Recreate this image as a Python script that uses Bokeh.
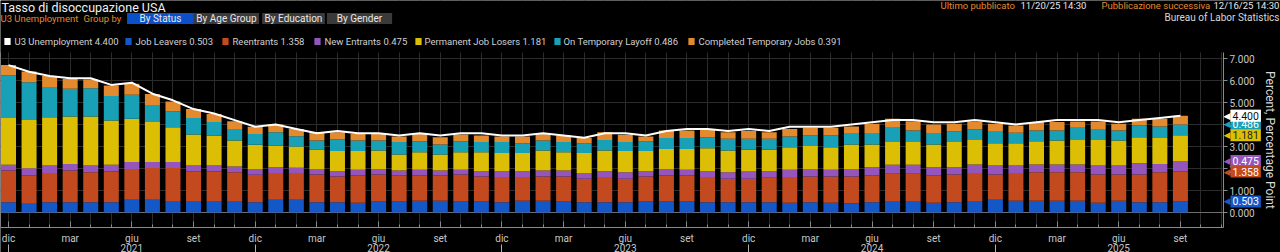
from bokeh.plotting import figure
from bokeh.models import (FixedTicker, PrintfTickFormatter, LinearAxis, Label, Grid,
                          BoxAnnotation, Range1d, ColumnDataSource)
from bokeh.embed import file_html
from bokeh.resources import INLINE

# ---------------- data ----------------
months = ["2020-12",
          "2021-01", "2021-02", "2021-03", "2021-04", "2021-05", "2021-06",
          "2021-07", "2021-08", "2021-09", "2021-10", "2021-11", "2021-12",
          "2022-01", "2022-02", "2022-03", "2022-04", "2022-05", "2022-06",
          "2022-07", "2022-08", "2022-09", "2022-10", "2022-11", "2022-12",
          "2023-01", "2023-02", "2023-03", "2023-04", "2023-05", "2023-06",
          "2023-07", "2023-08", "2023-09", "2023-10", "2023-11", "2023-12",
          "2024-01", "2024-02", "2024-03", "2024-04", "2024-05", "2024-06",
          "2024-07", "2024-08", "2024-09", "2024-10", "2024-11", "2024-12",
          "2025-01", "2025-02", "2025-03", "2025-04", "2025-05", "2025-06",
          "2025-07", "2025-08", "2025-09"]

job_leavers = [0.47, 0.40, 0.47, 0.47, 0.47, 0.47, 0.58, 0.58, 0.52, 0.52, 0.52, 0.52,
               0.47, 0.58, 0.58, 0.47, 0.47, 0.44, 0.50, 0.50, 0.53, 0.53, 0.50, 0.50,
               0.47, 0.53, 0.53, 0.50, 0.47, 0.47, 0.47, 0.50, 0.50, 0.50, 0.47, 0.47,
               0.47, 0.47, 0.44, 0.47, 0.44, 0.42, 0.47, 0.52, 0.52, 0.44, 0.47, 0.52,
               0.58, 0.53, 0.53, 0.53, 0.53, 0.44, 0.53, 0.47, 0.47, 0.503]
reentrants = [1.44, 1.28, 1.33, 1.44, 1.36, 1.39, 1.40, 1.44, 1.50, 1.36, 1.34, 1.31,
              1.25, 1.21, 1.21, 1.26, 1.17, 1.24, 1.23, 1.18, 1.15, 1.15, 1.23, 1.14,
              1.14, 1.08, 1.11, 1.14, 1.06, 1.14, 1.06, 1.14, 1.18, 1.18, 1.14, 1.06,
              1.06, 1.11, 1.17, 1.17, 1.20, 1.22, 1.21, 1.24, 1.24, 1.24, 1.26, 1.27,
              1.15, 1.26, 1.30, 1.30, 1.30, 1.29, 1.20, 1.26, 1.36, 1.358]
new_entrants = [0.26, 0.33, 0.34, 0.30, 0.31, 0.31, 0.31, 0.27, 0.27, 0.26, 0.28, 0.26,
                0.26, 0.27, 0.24, 0.22, 0.24, 0.26, 0.25, 0.23, 0.26, 0.23, 0.21, 0.24,
                0.27, 0.27, 0.27, 0.27, 0.26, 0.27, 0.30, 0.24, 0.30, 0.26, 0.27, 0.30,
                0.33, 0.30, 0.33, 0.31, 0.30, 0.31, 0.38, 0.41, 0.41, 0.38, 0.33, 0.39,
                0.41, 0.35, 0.35, 0.35, 0.35, 0.41, 0.41, 0.51, 0.38, 0.475]
perm_losers = [2.12, 2.20, 2.19, 2.15, 2.22, 2.01, 1.97, 1.82, 1.59, 1.41, 1.36, 1.18,
               1.10, 0.99, 0.97, 0.91, 0.91, 0.85, 0.84, 0.73, 0.80, 0.73, 0.80, 0.86,
               0.83, 0.83, 0.91, 0.83, 0.92, 0.94, 0.96, 0.91, 0.91, 0.95, 1.04, 0.99,
               0.99, 0.97, 1.03, 1.07, 1.03, 1.14, 1.03, 1.03, 1.03, 1.03, 1.14, 1.12,
               1.01, 1.01, 1.06, 1.09, 1.12, 1.16, 1.13, 1.18, 1.18, 1.181]
temp_layoff = [1.94, 1.71, 1.37, 1.26, 1.29, 1.11, 1.09, 0.78, 0.71, 0.74, 0.61, 0.53,
               0.49, 0.60, 0.47, 0.41, 0.53, 0.48, 0.45, 0.56, 0.50, 0.45, 0.50, 0.46,
               0.49, 0.44, 0.45, 0.46, 0.44, 0.48, 0.41, 0.45, 0.50, 0.50, 0.50, 0.53,
               0.50, 0.50, 0.48, 0.48, 0.53, 0.49, 0.49, 0.65, 0.53, 0.52, 0.48, 0.47,
               0.55, 0.47, 0.49, 0.46, 0.55, 0.50, 0.46, 0.53, 0.52, 0.486]
completed_temp = [0.48, 0.49, 0.50, 0.45, 0.40, 0.48, 0.50, 0.50, 0.46, 0.42, 0.37, 0.35,
                  0.33, 0.35, 0.33, 0.38, 0.33, 0.31, 0.31, 0.25, 0.34, 0.33, 0.31, 0.30,
                  0.25, 0.30, 0.31, 0.30, 0.24, 0.35, 0.33, 0.21, 0.34, 0.34, 0.38, 0.30,
                  0.35, 0.30, 0.35, 0.35, 0.35, 0.33, 0.45, 0.41, 0.42, 0.39, 0.35, 0.37,
                  0.33, 0.33, 0.38, 0.38, 0.29, 0.34, 0.30, 0.31, 0.35, 0.391]
u3 = [6.7,
      6.4, 6.2, 6.1, 6.1, 5.8, 5.9, 5.4, 5.1, 4.7, 4.5, 4.2, 3.9,
      4.0, 3.8, 3.6, 3.7, 3.6, 3.6, 3.5, 3.6, 3.5, 3.6, 3.6, 3.5,
      3.5, 3.6, 3.5, 3.4, 3.6, 3.6, 3.5, 3.7, 3.8, 3.8, 3.7, 3.8,
      3.7, 3.9, 3.9, 3.9, 4.0, 4.1, 4.2, 4.2, 4.1, 4.1, 4.2, 4.1,
      4.0, 4.1, 4.2, 4.2, 4.2, 4.1, 4.2, 4.3, 4.4]

series_names = ["Job Leavers", "Reentrants", "New Entrants", "Permanent Job Losers",
                "On Temporary Layoff", "Completed Temporary Jobs"]
series_keys = ["jl", "re", "ne", "pjl", "tl", "ctj"]
series_colors = ["#1458c8", "#c24a1e", "#9456bc", "#dcbf05", "#17a0b6", "#e38a2f"]
tag_text_colors = ["white", "white", "white", "#202020", "white", "#202020"]

month_abbr = {"03": "mar", "06": "giu", "09": "set", "12": "dic"}
quarter_months = ["03", "06", "09", "12"]
year_labels = ["2021", "2022", "2023", "2024", "2025"]

# ---------------- geometry (pixels of the 1280x252 canvas) ----------------
W, H = 1280, 252
PX0, PXM = 8.0, 20.56          # px of first month, px per month
PY0, PYU = 212.0, 22.0         # px of zero, px per percentage point
X_AXIS_PX, YEAR_AXIS_PX, SEP_AXIS_PX, Y_AXIS_PX, TOP_PX = 227, 243, 244, 1223, 52


def dx(px):
    return (px - PX0) / PXM


def dy(py):
    return (PY0 - py) / PYU


idx = list(range(len(months)))
src = ColumnDataSource(dict(idx=idx, jl=job_leavers, re=reentrants, ne=new_entrants,
                            pjl=perm_losers, tl=temp_layoff, ctj=completed_temp, u3=u3))

p = figure(width=W, height=H, output_backend="svg", toolbar_location=None,
           x_range=Range1d(dx(0), dx(W)), y_range=Range1d(dy(H), dy(0)),
           y_axis_location="right", min_border=0,
           min_border_left=0, min_border_right=0, min_border_top=0, min_border_bottom=0,
           background_fill_color="#000000", border_fill_color="#000000",
           outline_line_color=None)

# grids
p.xgrid.ticker = FixedTicker(ticks=list(range(0, 60)))
p.xgrid.grid_line_color = "#2c2c2c"
p.ygrid.ticker = FixedTicker(ticks=[1, 2, 3, 4, 5, 6, 7])
p.ygrid.grid_line_color = "#2c2c2c"
p.add_layout(Grid(dimension=1, ticker=FixedTicker(ticks=[0]), grid_line_color="#6e6e6e"))
# keep grid lines inside the chart area only
for kw in (dict(bottom=dy(TOP_PX)), dict(top=dy(X_AXIS_PX)), dict(left=dx(Y_AXIS_PX))):
    p.add_layout(BoxAnnotation(fill_color="#000000", fill_alpha=1.0, line_color=None,
                               level="underlay", **kw))

bars = p.vbar_stack(series_keys, x="idx", width=0.73, color=series_colors, source=src,
                    line_color=None)
p.line(x="idx", y="u3", source=src, line_color="white", line_width=2)

# right axis (fixed at the chart's right edge)
ya = p.yaxis[0]
ya.fixed_location = dx(Y_AXIS_PX)
ya.bounds = (dy(X_AXIS_PX), dy(TOP_PX))
ya.ticker = FixedTicker(ticks=[0, 1, 2, 3, 4, 5, 6, 7])
ya.formatter = PrintfTickFormatter(format="%.3f")
ya.axis_label = "Percent, Percentage Point"
ya.axis_label_text_font_style = "normal"
ya.axis_label_text_font_size = "12px"
ya.axis_label_text_color = "#d8d8d8"
ya.axis_label_text_font = "Roboto"
ya.axis_label_standoff = 5
ya.axis_line_color = "#8a8a8a"
ya.major_tick_line_color = "#8a8a8a"
ya.major_tick_out = 4
ya.major_tick_in = 0
ya.minor_tick_line_color = None
ya.major_label_text_font_size = "10px"
ya.major_label_text_color = "#c8c8c8"
ya.major_label_text_font = "Roboto"
ya.major_label_standoff = 2

# bottom axis (months)
q_ticks = [i for i, m in enumerate(months) if m[5:] in quarter_months]
xa = p.xaxis[0]
xa.fixed_location = dy(X_AXIS_PX)
xa.bounds = (dx(0), dx(Y_AXIS_PX))
xa.ticker = FixedTicker(ticks=q_ticks, minor_ticks=list(range(0, 60)))
xa.major_label_overrides = {i: month_abbr[months[i][5:]] for i in q_ticks}
xa.axis_line_color = "#8a8a8a"
xa.major_tick_line_color = "#8a8a8a"
xa.major_tick_in = 6
xa.major_tick_out = 0
xa.minor_tick_line_color = "#8a8a8a"
xa.minor_tick_in = 3
xa.minor_tick_out = 0
xa.major_label_text_font_size = "10px"
xa.major_label_text_color = "#c8c8c8"
xa.major_label_text_font = "Roboto"
xa.major_label_standoff = 5

# year axis (labels only)
jun_ticks = [i for i, m in enumerate(months) if m[5:] == "06"]
dec_ticks = [i for i, m in enumerate(months) if m[5:] == "12"]
year_axis = LinearAxis(ticker=FixedTicker(ticks=jun_ticks, minor_ticks=[]),
                       fixed_location=dy(YEAR_AXIS_PX),
                       major_label_overrides={t: y for t, y in zip(jun_ticks, year_labels)},
                       axis_line_color=None, major_tick_line_color=None,
                       minor_tick_line_color=None,
                       major_tick_in=0, major_tick_out=0, minor_tick_in=0, minor_tick_out=0,
                       major_label_text_font_size="10px", major_label_text_color="#c8c8c8",
                       major_label_text_font="Roboto", major_label_standoff=0)
p.add_layout(year_axis, "below")
# year separators (ticks only)
sep_axis = LinearAxis(ticker=FixedTicker(ticks=dec_ticks, minor_ticks=[]),
                      fixed_location=dy(SEP_AXIS_PX),
                      major_label_overrides={t: "" for t in dec_ticks},
                      axis_line_color=None, major_tick_line_color="#b0b0b0",
                      minor_tick_line_color=None,
                      major_tick_in=0, major_tick_out=9, minor_tick_in=0, minor_tick_out=0,
                      major_label_text_font_size="1px")
p.add_layout(sep_axis, "below")


# header texts (screen units: x from left, y from bottom of the canvas)
def hdr(text, x, py, color, size="10px", align="left", **kw):
    p.add_layout(Label(x=x, y=H - py, x_units="screen", y_units="screen", text=text,
                       text_color=color, text_font_size=size, text_font="Roboto",
                       text_align=align, text_baseline="middle", **kw))


NB = "\u00a0"
hdr("Tasso di disoccupazione USA", 1, 7, "#f0f0f0", size="12.5px")
hdr("U3 Unemployment", 0, 18, "#e38a2f", size="9.5px")
hdr("Group by", 83, 18, "#e38a2f", size="9.5px")
buttons = [("By Status", 160, "#0b50c8", 5), ("By Age Group", 226, "#3a3a3a", 1),
           ("By Education", 293, "#3a3a3a", 1), ("By Gender", 359, "#3a3a3a", 4)]
for text, cx, bg, npad in buttons:
    hdr(NB * npad + text + NB * npad, cx, 18, "#e8e8e8", align="center",
        background_fill_color=bg, padding=0)
hdr("Ultimo pubblicato", 940, 5, "#e38a2f", size="9.5px")
hdr("11/20/25 14:30", 1020, 5, "#e8e8e8", size="9.5px")
hdr("Pubblicazione successiva", 1101, 5, "#e38a2f", size="9.5px")
hdr("12/16/25 14:30", 1213, 5, "#e8e8e8", size="9.5px")
hdr("Bureau of Labor Statistics", 1279, 17, "#d8d8d8", align="right")

# legend row
last = [job_leavers[-1], reentrants[-1], new_entrants[-1], perm_losers[-1],
        temp_layoff[-1], completed_temp[-1]]
legend_entries = [("U3 Unemployment", u3[-1], "white")] + \
    [(n, v, c) for n, v, c in zip(series_names, last, series_colors)]
legend_sq = [7, 128, 225, 317, 418, 557, 691]
legend_tx = [14, 135, 232, 324, 424, 563, 698]
for (name, val, col), sq, tx in zip(legend_entries, legend_sq, legend_tx):
    hdr(NB, sq, 41, col, size="1px", align="center", background_fill_color=col, padding=3)
    hdr(f"{name} {val:.3f}", tx, 41, "#d0d0d0", size="9.5px")

# value tags on the right axis (arrow + box)
cum = []
s = 0.0
for v in last:
    s += v
    cum.append(s)
tags = [(cum[k], f"{last[k]:.3f}", series_colors[k], tag_text_colors[k]) for k in [5, 4, 3, 2, 1, 0]]
tags.append((u3[-1], f"{u3[-1]:.3f}", "#ffffff", "#101010"))
for yv, txt, bg, fg in tags:
    p.add_layout(Label(x=Y_AXIS_PX, y=yv, x_units="screen", text="\u25c0",
                       text_color=bg, text_font_size="9px", text_font="DejaVu Sans",
                       text_baseline="middle", text_align="left"))
    p.add_layout(Label(x=Y_AXIS_PX + 7, y=yv, x_units="screen", text=txt,
                       text_color=fg, text_font_size="10.5px", text_font="Roboto",
                       text_baseline="middle", text_align="left",
                       background_fill_color=bg, padding=2))

open("out.html", "w").write(file_html(p, INLINE))
